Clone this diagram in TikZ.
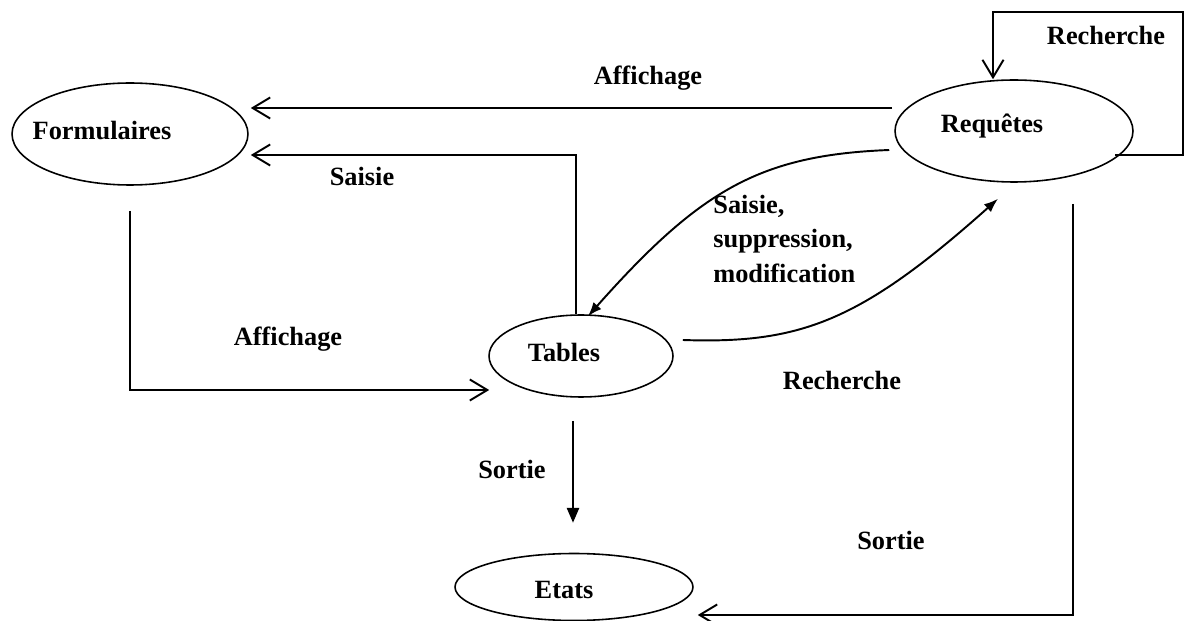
\documentclass[tikz,border=0pt]{standalone}
\usepackage{fontspec}
\setmainfont{Liberation Serif}
\usetikzlibrary{arrows.meta,shapes.geometric}

\begin{document}
\begin{tikzpicture}[x=0.02cm, y=-0.02cm,
        boite/.style={draw, ellipse, line width=0.9pt, inner sep=0pt},
        etiq/.style={font=\fontsize{15}{19.5}\selectfont\bfseries, inner sep=0pt},
        fleche/.style={line width=1.1pt, -{Straight Barb[length=10pt,width=12pt]}},
        pleine/.style={line width=1.1pt, -{Latex[length=8pt,width=6pt]}}]
        \useasboundingbox (0,0) rectangle (1184,621);

        % Ellipses
        \node[boite, minimum width=4.72cm, minimum height=2.04cm] (form) at (130,134) {};
        \node[boite, minimum width=4.76cm, minimum height=2.04cm] (req) at (1014,131) {};
        \node[boite, minimum width=3.68cm, minimum height=1.64cm] (tab) at (581,356) {};
        \node[boite, minimum width=4.76cm, minimum height=1.34cm] (etat) at (574,587) {};

        % Names in the ellipses
        \node[etiq, anchor=base] (formtxt) at (102,140) {Formulaires};
        \node[etiq, anchor=base] (reqtxt) at (992,133) {Requêtes};
        \node[etiq, anchor=base] (tabtxt) at (564,362) {Tables};
        \node[etiq, anchor=base] (etattxt) at (564,599) {Etats};

        % Formulaires <- Requetes, Tables
        \draw[fleche] ([shift={(-2,-23)}]req.west) -- ([shift={(2,-26)}]form.east); % Affichage
        \draw[fleche] ([xshift=-0.1cm]tab.north) |- ([shift={(2,21)}]form.east); % Saisie

        % Formulaires -> Tables
        \draw[fleche] ([yshift=-0.5cm]form.south) |- ([shift={(1,34)}]tab.west);

        % Requetes <-> Tables
        \draw[pleine] ([shift={(-5,19)}]req.west) .. controls (760,155) and (700,190) .. ([shift={(7,2)}]tab.north);
        \draw[pleine] ([shift={(9,-16)}]tab.east) .. controls (800,344) and (860,322) .. ([shift={(-16,16)}]req.south);

        % Sorties vers Etats
        \draw[line width=1.1pt, -{Triangle[length=8.5pt,width=7pt]}] ([shift={(-8,23)}]tab.south) -- ([shift={(-1,-30)}]etat.north);
        \draw[fleche] ([shift={(59,21)}]req.south) |- ([shift={(4,28)}]etat.east);

        % Boucle Recherche
        \coordinate (coin) at (1183,12);
        \draw[fleche] ([shift={(101,24)}]req.center) -| (coin) -| ([xshift=-0.42cm]req.north);

        % Labels
        \node[etiq, anchor=base] (l1) at (648,85) {Affichage};
        \node[etiq, anchor=base] (l2) at (362,186) {Saisie};
        \node[etiq, anchor=base] (l3) at (288,346) {Affichage};
        \node[etiq, anchor=north west, align=left] (l4) at (713,195) {Saisie,\\suppression,\\modification};
        \node[etiq, anchor=base] (l5) at (842,390) {Recherche};
        \node[etiq, anchor=base] (l6) at (512,479) {Sortie};
        \node[etiq, anchor=base] (l7) at (891,550) {Sortie};
        \node[etiq, anchor=base] (l8) at (1106,45) {Recherche};
    \end{tikzpicture}
\end{document}
